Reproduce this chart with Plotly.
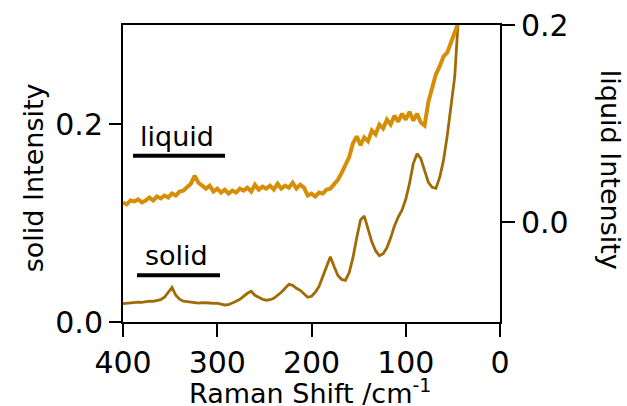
import plotly.graph_objects as go

# Raman shift sampling (cm^-1)
shift = [400, 396, 392, 388, 384, 380, 376, 372, 368, 364, 360, 356, 352, 348, 344, 340,
         336, 332, 328, 324, 320, 316, 312, 308, 304, 300, 296, 292, 288, 284, 280, 276,
         272, 268, 264, 260, 256, 252, 248, 244, 240, 236, 232, 228, 224, 220, 216, 212,
         208, 204, 200, 196, 192, 188, 184, 180, 176, 172, 168, 164, 160, 156, 152, 148,
         144, 140, 136, 132, 128, 124, 120, 116, 112, 108, 104, 100, 96, 92, 88, 84,
         80, 76, 72, 68, 64, 60, 56, 52, 48, 44]

solid = [0.0185, 0.019, 0.0188, 0.0195, 0.020, 0.0198, 0.0205, 0.021, 0.0208, 0.022, 0.0225, 0.025,
         0.030, 0.035, 0.027, 0.023, 0.021, 0.0205, 0.020, 0.0195, 0.019, 0.0195, 0.019, 0.0192,
         0.0188, 0.019, 0.018, 0.0172, 0.0175, 0.019, 0.021, 0.023, 0.026, 0.029, 0.031, 0.027,
         0.025, 0.023, 0.022, 0.0225, 0.024, 0.027, 0.030, 0.034, 0.038, 0.037, 0.034, 0.032,
         0.028, 0.025, 0.026, 0.030, 0.036, 0.046, 0.057, 0.066, 0.056, 0.047, 0.043, 0.042,
         0.050, 0.065, 0.085, 0.103, 0.107, 0.093, 0.081, 0.072, 0.067, 0.069, 0.075, 0.085,
         0.097, 0.106, 0.113, 0.124, 0.140, 0.160, 0.170, 0.165, 0.152, 0.141, 0.136, 0.135,
         0.146, 0.163, 0.188, 0.216, 0.248, 0.310]

liquid = [0.020, 0.018, 0.022, 0.021, 0.023, 0.020, 0.022, 0.025, 0.022, 0.026, 0.024, 0.027,
          0.025, 0.029, 0.027, 0.031, 0.032, 0.036, 0.039, 0.047, 0.040, 0.037, 0.034, 0.037,
          0.031, 0.034, 0.030, 0.033, 0.029, 0.032, 0.030, 0.034, 0.032, 0.035, 0.031, 0.038,
          0.033, 0.036, 0.034, 0.037, 0.033, 0.039, 0.034, 0.037, 0.035, 0.040, 0.034, 0.038,
          0.035, 0.027, 0.029, 0.026, 0.030, 0.029, 0.033, 0.034, 0.039, 0.043, 0.050, 0.058,
          0.066, 0.080, 0.087, 0.078, 0.086, 0.082, 0.093, 0.089, 0.099, 0.095, 0.104, 0.099,
          0.108, 0.102, 0.110, 0.104, 0.112, 0.103, 0.110, 0.101, 0.098, 0.122, 0.138, 0.150,
          0.158, 0.168, 0.172, 0.183, 0.192, 0.203]

x_ticks = [400, 300, 200, 100, 0]
left_ticks = [0.0, 0.2]
right_ticks = [0.0, 0.2]

FONT = "DejaVu Sans"
fig = go.Figure()
fig.add_trace(go.Scatter(x=shift, y=liquid, yaxis="y2", mode="lines",
                         line=dict(color="#D68E06", width=4), showlegend=False))
fig.add_trace(go.Scatter(x=shift, y=solid, yaxis="y", mode="lines",
                         line=dict(color="#A06A04", width=2.8), showlegend=False))

axis_common = dict(showline=True, linecolor="black", linewidth=2, ticks="outside",
                   tickcolor="black", tickwidth=2, showgrid=False, zeroline=False,
                   tickfont=dict(family=FONT, size=30, color="black"))

fig.update_layout(
    width=627, height=406,
    margin=dict(l=123, r=127, t=25, b=84, autoexpand=False),
    paper_bgcolor="white", plot_bgcolor="white",
    xaxis=dict(range=[400, 0], tickvals=x_ticks, ticklen=13, mirror=True, **axis_common),
    yaxis=dict(range=[0, 0.3], tickvals=left_ticks, ticktext=["%.1f" % v for v in left_ticks],
               ticklen=12, **axis_common),
    yaxis2=dict(range=[-0.1013, 0.2], tickvals=right_ticks, ticktext=["%.1f" % v for v in right_ticks],
                ticklen=13, overlaying="y", side="right", **axis_common),
    font=dict(family=FONT, size=27, color="black"),
)

ann = dict(showarrow=False, xref="paper", yref="paper")
title_font = dict(family=FONT, size=27, color="black")
label_font = dict(family=FONT, size=27, color="black")
fig.add_annotation(text="Raman Shift /cm<sup>-1</sup>", x=0.496, y=-0.235, xanchor="center",
                   yanchor="middle", font=title_font, **ann)
fig.add_annotation(text="solid Intensity", x=-0.2387, y=0.484, textangle=-90, xanchor="center",
                   yanchor="middle", font=title_font, **ann)
fig.add_annotation(text="liquid Intensity", x=1.293, y=0.511, textangle=90, xanchor="center",
                   yanchor="middle", font=title_font, **ann)
fig.add_annotation(text="liquid", x=0.142, y=0.624, xanchor="center", yanchor="middle", font=label_font, **ann)
fig.add_annotation(text="solid", x=0.142, y=0.223, xanchor="center", yanchor="middle", font=label_font, **ann)

fig.add_shape(type="line", xref="paper", yref="paper", x0=0.0265, x1=0.2706, y0=0.560, y1=0.560,
              line=dict(color="black", width=4))
fig.add_shape(type="line", xref="paper", yref="paper", x0=0.0371, x1=0.2573, y0=0.1574, y1=0.1574,
              line=dict(color="black", width=4))

fig.write_html("out.html", config={"displayModeBar": False},
               post_script="document.body.style.margin='0';")
